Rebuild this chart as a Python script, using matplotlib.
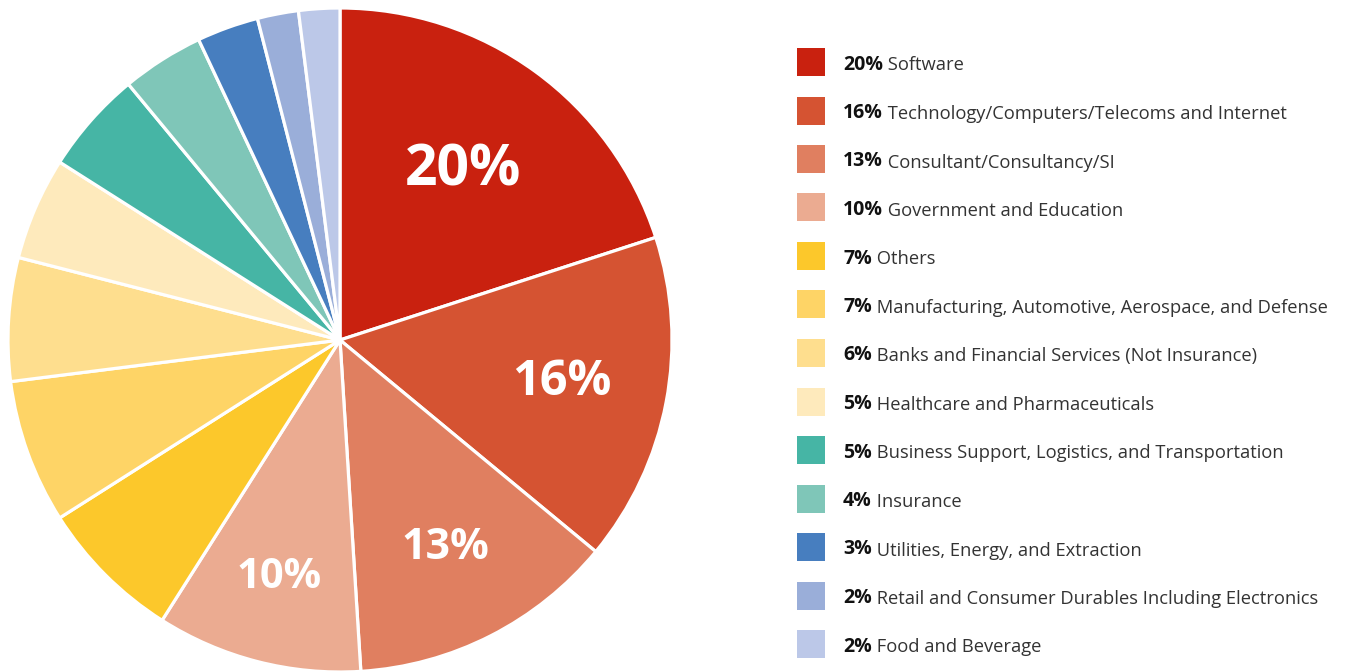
import matplotlib.pyplot as plt
from matplotlib.patches import Rectangle
from matplotlib import font_manager as fm
import numpy as np

plt.rcParams['font.family'] = ['Open Sans', 'DejaVu Sans']

industries = ['Software', 'Technology/Computers/Telecoms and Internet', 'Consultant/Consultancy/SI',
              'Government and Education', 'Others', 'Manufacturing, Automotive, Aerospace, and Defense',
              'Banks and Financial Services (Not Insurance)', 'Healthcare and Pharmaceuticals',
              'Business Support, Logistics, and Transportation', 'Insurance',
              'Utilities, Energy, and Extraction', 'Retail and Consumer Durables Including Electronics',
              'Food and Beverage']
shares = [20, 16, 13, 10, 7, 7, 6, 5, 5, 4, 3, 2, 2]
colors = ['#C9210F', '#D55332', '#E07F60', '#EBAB91', '#FCC82B', '#FED466', '#FEDE8E',
          '#FEEABC', '#46B5A5', '#7FC6B8', '#477EBF', '#9AAED9', '#BCC8E8']

# labels shown inside the big slices: (font size, distance from centre)
inner_labels = {0: (41, 0.63), 1: (35, 0.68), 2: (31, 0.70), 3: (30, 0.74)}

# look for a normal-width Open Sans Bold file, else fall back to Lato
bold_file = None
for f in fm.findSystemFonts():
    n = f.split('/')[-1].lower().replace(' ', '').replace('_', '').replace('-', '')
    if n.startswith('opensans') and 'bold' in n and 'condensed' not in n and 'semi' not in n \
            and 'extra' not in n and 'italic' not in n:
        bold_file = f
        break


def bold_props(size):
    if bold_file:
        return fm.FontProperties(fname=bold_file, size=size)
    return fm.FontProperties(family='Lato', weight='bold', size=size)


W, H = 1347, 671
fig = plt.figure(figsize=(W / 100, H / 100), dpi=100)

cx, cy, r = 340, 340, 332
ax = fig.add_axes([(cx - r) / W, (H - cy - r) / H, 2 * r / W, 2 * r / H])
wedges, _ = ax.pie(shares, colors=colors, startangle=90, counterclock=False, radius=1,
                   wedgeprops=dict(edgecolor='white', linewidth=2.3))
ax.set_xlim(-1, 1)
ax.set_ylim(-1, 1)
ax.set_aspect('equal')
ax.axis('off')

for i, (fs, dist) in inner_labels.items():
    w = wedges[i]
    mid = np.deg2rad((w.theta1 + w.theta2) / 2)
    ax.text(dist * np.cos(mid), dist * np.sin(mid), f'{shares[i]}%', color='white',
            fontproperties=bold_props(fs), ha='center', va='center')

# legend drawn by hand
y0, step = 62, 48.5
for i, (name, val, col) in enumerate(zip(industries, shares, colors)):
    y = y0 + i * step
    fig.patches.append(Rectangle((797 / W, 1 - (y + 14) / H), 28 / W, 28 / H,
                                 transform=fig.transFigure, facecolor=col, edgecolor='none'))
    b = fig.text(843 / W, 1 - y / H, f'{val}%', fontproperties=bold_props(14),
                 color='#111111', va='center_baseline')
    fig.add_artist(plt.Annotation(' ' + name, xy=(1, 0), xycoords=b, xytext=(0, 0),
                                  textcoords='offset points', va='bottom', ha='left',
                                  fontsize=13.2, color='#333333'))

fig.savefig('out.png', dpi=100)
